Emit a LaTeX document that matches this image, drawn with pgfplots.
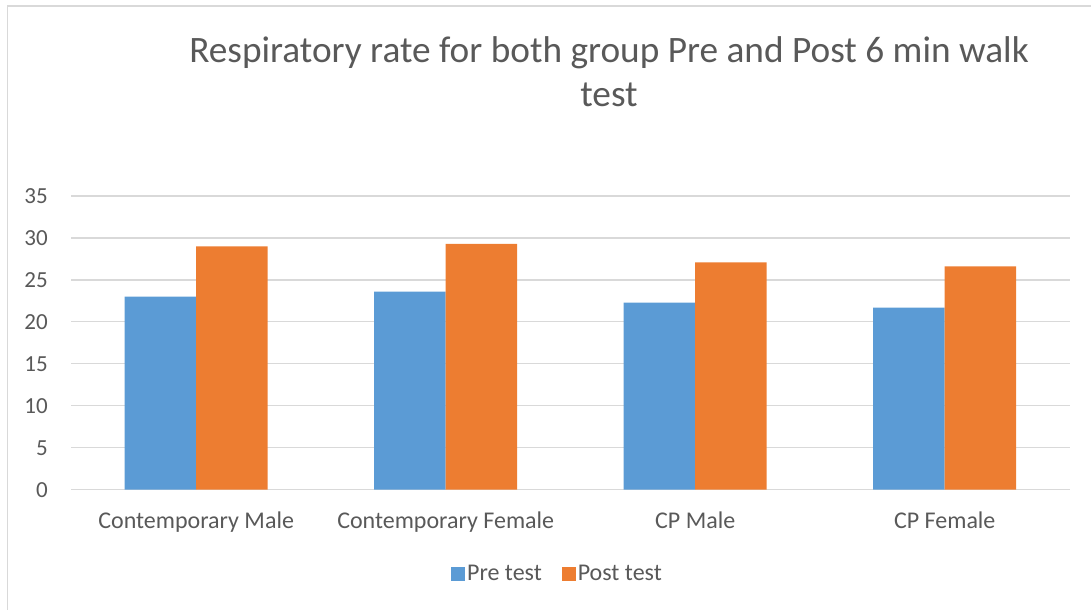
\documentclass[border=0pt]{standalone}
\usepackage{pgfplots}
\pgfplotsset{compat=1.18}
\usepackage{fontspec}
\setmainfont{Carlito}
\definecolor{preblue}{HTML}{5B9BD5}
\definecolor{postorange}{HTML}{ED7D31}
\definecolor{txtgray}{HTML}{595959}
\definecolor{gridgray}{HTML}{D9D9D9}
\begin{document}
\begin{tikzpicture}[x=1bp,y=1bp]
\useasboundingbox (0,0) rectangle (1091,610);
\draw[gridgray, line width=1.2bp] (7.5,0) -- (7.5,604) -- (1091,604);
\node[anchor=base, text=txtgray, font=\fontsize{37.3bp}{42bp}\selectfont, inner sep=0] at (609,547) {Respiratory rate for both group Pre and Post 6 min walk};
\node[anchor=base, text=txtgray, font=\fontsize{37.3bp}{42bp}\selectfont, inner sep=0] at (609,503) {test};
\begin{axis}[
  at={(71.4bp,120.3bp)}, anchor=south west,
  scale only axis, width=998.1bp, height=293.7bp,
  xmin=-0.5, xmax=3.5, ymin=0, ymax=35,
  ybar=0pt, bar width=71.5bp,
  axis line style={draw=none},
  major tick length=0pt,
  tick style={draw=none},
  ytick={0,5,...,35},
  ymajorgrids, grid style={gridgray, line width=1.2bp},
  xtick={0,1,2,3},
  xticklabels={Contemporary Male, Contemporary Female, CP Male, CP Female},
  /pgf/number format/assume math mode=true,
  ticklabel style={text=txtgray},
  yticklabel style={font=\fontsize{23bp}{27bp}\selectfont, anchor=east, inner sep=0pt, xshift=-23.4bp},
  xticklabel style={font=\fontsize{24bp}{28bp}\selectfont, anchor=base, inner sep=0pt, yshift=-39.3bp},
  legend columns=2,
  legend style={draw=none, fill=none, at={(0.487,-0.287)}, anchor=center,
    font=\fontsize{24bp}{28bp}\selectfont, text=txtgray,
    /tikz/every even column/.append style={column sep=18bp}},
  legend image code/.code={\fill[#1] (0bp,-7bp) rectangle (14bp,7bp);},
]
\addplot[fill=preblue, draw=none] coordinates {(0,23.0) (1,23.6) (2,22.3) (3,21.7)};
\addplot[fill=postorange, draw=none] coordinates {(0,29.0) (1,29.3) (2,27.1) (3,26.6)};
\legend{Pre test, Post test}
\end{axis}
\end{tikzpicture}
\end{document}
